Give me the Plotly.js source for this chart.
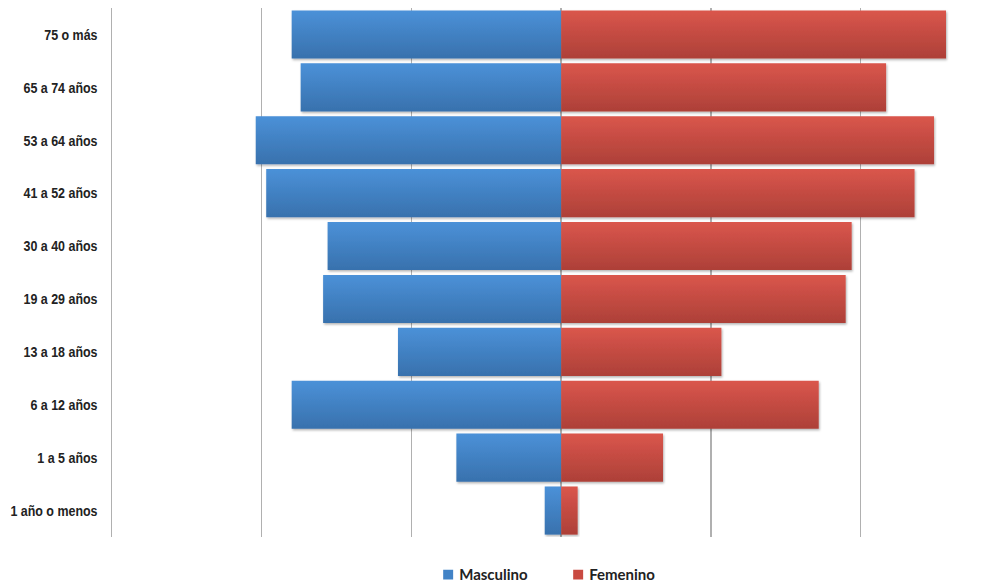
<!DOCTYPE html>
<html>
<head>
<meta charset="utf-8">
<script src="https://cdn.plot.ly/plotly-3.0.1.min.js"></script>
<style>
  html, body { margin: 0; padding: 0; background: #fff; }
  #chart { width: 999px; height: 586px; }
</style>
</head>
<body>
<div id="chart"></div>
<script>
// Age groups, top row first
const ageGroups = [
  "75 o más", "65 a 74 años", "53 a 64 años", "41 a 52 años", "30 a 40 años",
  "19 a 29 años", "13 a 18 años", "6 a 12 años", "1 a 5 años", "1 año o menos"
];
// Share of population per group (%)
const masculino = [9.0, 8.7, 10.2, 9.85, 7.8, 7.95, 5.45, 9.0, 3.5, 0.55];
const femenino  = [12.85, 10.85, 12.45, 11.8, 9.7, 9.5, 5.35, 8.6, 3.4, 0.55];

const gridGray = "#b0b0b0";
const labelFont = { family: "Liberation Sans, Arial, sans-serif", size: 15, color: "#222", weight: 700 };

const traces = [
  {
    type: "bar", orientation: "h", name: "Masculino",
    y: ageGroups, x: masculino.map(v => -v),
    marker: { color: "#4283c6" },
    hoverinfo: "skip"
  },
  {
    type: "bar", orientation: "h", name: "Femenino",
    y: ageGroups, x: femenino,
    marker: { color: "#c94a41" },
    hoverinfo: "skip"
  }
];

const layout = {
  width: 999, height: 586,
  margin: { l: 112, r: 0, t: 8, b: 49 },
  paper_bgcolor: "#fff", plot_bgcolor: "#fff",
  barmode: "relative",
  bargap: 0.09,
  showlegend: true,
  legend: {
    orientation: "h", x: 0.503, xanchor: "center",
    yref: "container", y: 0.019, yanchor: "middle",
    font: { family: "Lato, Open Sans, sans-serif", size: 15, color: "#222", weight: 700 },
    itemwidth: 30, traceorder: "normal",
    entrywidth: 85, entrywidthmode: "pixels"
  },
  xaxis: {
    range: [-15, 14.62], dtick: 5, tick0: 0,
    showticklabels: false, ticks: "",
    showgrid: true, gridcolor: gridGray, gridwidth: 1.5,
    zeroline: true, zerolinecolor: gridGray, zerolinewidth: 1.5,
    showline: false, fixedrange: true
  },
  yaxis: {
    autorange: "reversed", type: "category",
    showgrid: false, zeroline: false,
    showline: true, linecolor: gridGray, linewidth: 1.5,
    ticks: "", ticklabelstandoff: 10,
    tickfont: labelFont, fixedrange: true
  }
};

Plotly.newPlot("chart", traces, layout, { displayModeBar: false, staticPlot: true }).then(gd => {
  // vertical shading and soft drop shadow on the bars
  const svg = gd.querySelector("svg.main-svg");
  const ns = "http://www.w3.org/2000/svg";
  const defs = document.createElementNS(ns, "defs");
  defs.innerHTML = `
    <linearGradient id="gradBlue" x1="0" y1="0" x2="0" y2="1">
      <stop offset="0" stop-color="#4b91d8"/>
      <stop offset="1" stop-color="#3871ad"/>
    </linearGradient>
    <linearGradient id="gradRed" x1="0" y1="0" x2="0" y2="1">
      <stop offset="0" stop-color="#da564c"/>
      <stop offset="1" stop-color="#ad4038"/>
    </linearGradient>
    <filter id="barShadow" x="-5%" y="-10%" width="115%" height="140%">
      <feDropShadow dx="1" dy="1.5" stdDeviation="1.2" flood-color="#000" flood-opacity="0.3"/>
    </filter>`;
  svg.insertBefore(defs, svg.firstChild);
  const groups = gd.querySelectorAll(".barlayer .trace");
  const fills = ["url(#gradBlue)", "url(#gradRed)"];
  groups.forEach((g, i) => {
    g.querySelectorAll("path").forEach(p => {
      p.style.fill = fills[i];
      p.setAttribute("filter", "url(#barShadow)");
    });
  });

  // condensed look for the age-group labels: squeeze horizontally about their right edge
  gd.querySelectorAll(".yaxislayer-above .ytick text").forEach(t => {
    const x = parseFloat(t.getAttribute("x")) || 0;
    const prev = t.getAttribute("transform") || "";
    t.setAttribute("transform", `${prev} translate(${x},0) scale(0.83,1) translate(${-x},0)`);
  });

  // smaller legend swatches sitting closer to their labels
  gd.querySelectorAll(".legend .legendpoints path").forEach(p => {
    const prev = p.getAttribute("transform") || "";
    p.setAttribute("transform", `${prev} scale(0.83)`);
  });
  gd.querySelectorAll(".legend .traces text.legendtext").forEach(t => {
    t.setAttribute("x", 31);
  });
});
</script>
</body>
</html>
